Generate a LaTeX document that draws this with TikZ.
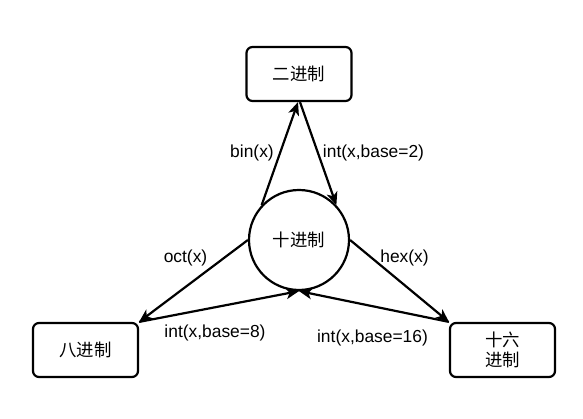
\documentclass[tikz,border=0pt]{standalone}
\usepackage{fontspec}
\setmainfont{Liberation Sans}
\newfontfamily\cjk{Noto Sans CJK SC}
\usepackage{tikz}
\usetikzlibrary{calc}
\usetikzlibrary{arrows.meta}
\tikzset{
    numbox/.style={draw, line width=2.2pt, rounded corners=6pt, minimum width=105pt, minimum height=54pt, inner sep=0pt, align=center, font=\fontsize{17.4}{20.5}\selectfont\cjk},
    numcirc/.style={draw, line width=2.2pt, circle, minimum size=100pt, inner sep=0pt, font=\fontsize{17.4}{20.5}\selectfont\cjk},
    conv/.style={line width=2.2pt, -{Stealth[length=13pt, width=11pt, inset=3.5pt]}},
    convlabel/.style={inner sep=0pt, font=\fontsize{17.4}{20.5}\selectfont}
}

\begin{document}
\begin{tikzpicture}[x=1pt, y=-1pt]
            \useasboundingbox                                             (0,0) rectangle (583,419);
            \node[numcirc] (dec) at (299.0,240.0) {十进制};
            \node[numbox]  (bin) at (299.0, 74.0) {二进制};
            \node[numbox]  (oct) at ( 85.5,350.0) {八进制};
            \node[numbox]  (hex) at (502.5,350.0) {十六\\进制};
            % conversions
            \draw[conv] (dec.137)                 -- ([xshift=-1pt]bin.south);
            \draw[conv] ([xshift=1pt]bin.south)   -- (dec.43);
            \draw[conv] (dec.west)                -- (oct.north east);
            \draw[conv] (oct.north east)          -- (dec.south);
            \draw[conv] (dec.east)                -- (hex.north west);
            \draw[conv] (hex.north west)          -- (dec.south);
            % labels
            \node[convlabel] (binl)   at (252.0,153.0) {bin(x)};
            \node[convlabel] (int2l)  at (373.5,153.0) {int(x,base=2)};
            \node[convlabel] (octl)   at (185.5,258.0) {oct(x)};
            \node[convlabel] (hexl)   at (404.5,258.0) {hex(x)};
            \node[convlabel] (int8l)  at (215.0,333.0) {int(x,base=8)};
            \node[convlabel] (int16l) at (372.5,338.0) {int(x,base=16)};
\end{tikzpicture}
\end{document}
